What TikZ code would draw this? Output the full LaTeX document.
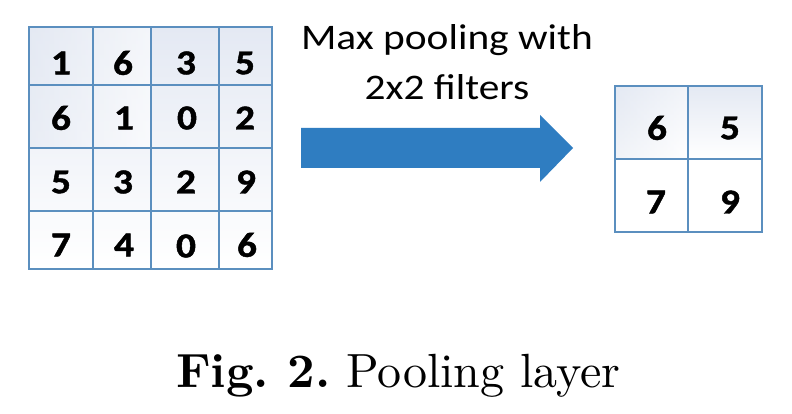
\documentclass[tikz,border=0pt]{standalone}
\usepackage{fontspec}
\newfontfamily\calibrifont[BoldFeatures={FakeBold=1.2}]{Carlito}
\newfontfamily\capfont[BoldFont=lmroman10-bold.otf]{lmroman10-regular.otf}
\definecolor{gridblue}{HTML}{5B8FBF}
\definecolor{arrowblue}{HTML}{2F7DC1}
\definecolor{shadeblue}{HTML}{E4E9F3}
\newcommand{\wide}[2]{\scalebox{#1}[1]{#2}}
\tikzset{
  gridline/.style={draw=gridblue, line width=1.8pt},
  num/.style={inner sep=0pt, font=\calibrifont\bfseries\fontsize{35}{38}\selectfont},
  lbl/.style={inner sep=0pt, anchor=base, font=\calibrifont\fontsize{36}{40}\selectfont},
}
\begin{document}
\begin{tikzpicture}[x=1pt,y=-1pt]
\useasboundingbox (0,0) rectangle (792,414);
\fill[white] (0,0) rectangle (792,414);
% left grid shading
\shade[top color=shadeblue, middle color=white, bottom color=white] (29,27) rectangle (272,269);
\shade[left color=shadeblue, right color=white, opacity=0.6] (29,27) rectangle (151,148);
% left grid lines
\draw[gridline] (29,27) rectangle (272,269);
\foreach \x in {93,151,219} \draw[gridline] (\x,27) -- (\x,269);
\foreach \y in {85,148,211} \draw[gridline] (29,\y) -- (272,\y);
% left numbers
\node[num] (a11) at (61,63) {\wide{1.12}{1}};
\node[num] (a12) at (123,63) {\wide{1.12}{6}};
\node[num] (a13) at (186,63) {\wide{1.12}{3}};
\node[num] (a14) at (245,63) {\wide{1.12}{5}};
\node[num] (a21) at (61,118) {\wide{1.12}{6}};
\node[num] (a22) at (124,118) {\wide{1.12}{1}};
\node[num] (a23) at (187,118) {\wide{1.12}{0}};
\node[num] (a24) at (245,118) {\wide{1.12}{2}};
\node[num] (a31) at (61,182) {\wide{1.12}{5}};
\node[num] (a32) at (123,182) {\wide{1.12}{3}};
\node[num] (a33) at (186,182) {\wide{1.12}{2}};
\node[num] (a34) at (246,182) {\wide{1.12}{9}};
\node[num] (a41) at (61,245) {\wide{1.12}{7}};
\node[num] (a42) at (124,245) {\wide{1.12}{4}};
\node[num] (a43) at (186,246) {\wide{1.12}{0}};
\node[num] (a44) at (247,245) {\wide{1.12}{6}};
% arrow
\fill[arrowblue] (301,128) -- (540,128) -- (540,115) -- (573,148) -- (540,182) -- (540,168) -- (301,168) -- cycle;
% label
\node[lbl] (l1) at (447,50) {\wide{1.15}{Max pooling with}};
\node[lbl] (l2) at (447,100) {\wide{1.15}{2x2 filters}};
% right grid
\shade[top color=shadeblue, bottom color=white] (615,86) rectangle (762,159);
\shade[left color=shadeblue, right color=white, opacity=0.5] (615,86) rectangle (688,159);
\draw[gridline] (615,86) rectangle (762,232);
\draw[gridline] (688,86) -- (688,232);
\draw[gridline] (615,159) -- (762,159);
\node[num] (b11) at (657,128) {\wide{1.12}{6}};
\node[num] (b12) at (730,128) {\wide{1.12}{5}};
\node[num] (b21) at (656,202) {\wide{1.12}{7}};
\node[num] (b22) at (730,202) {\wide{1.12}{9}};
% caption
\node[inner sep=0pt, anchor=base west, font=\capfont\fontsize{48}{54}\selectfont] (cap) at (176,387) {\frenchspacing\textbf{Fig. 2.} Pooling layer};
\end{tikzpicture}
\end{document}
